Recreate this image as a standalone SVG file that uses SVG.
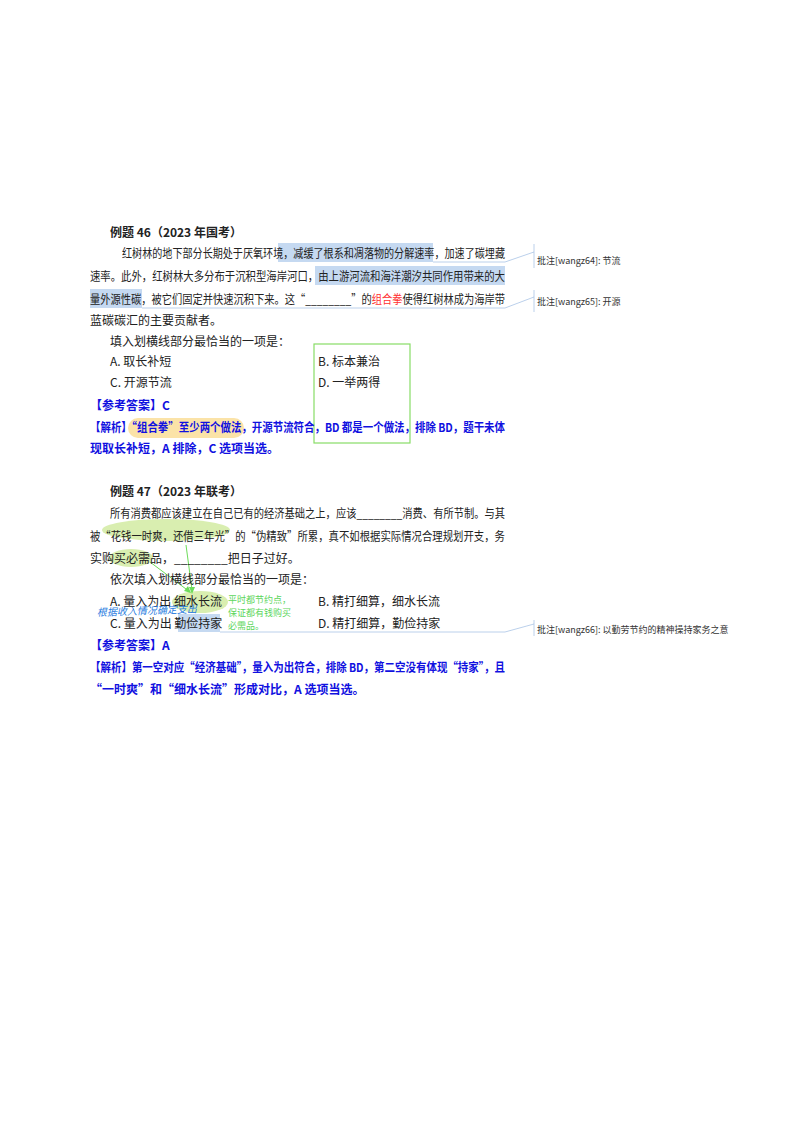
<svg xmlns="http://www.w3.org/2000/svg" width="800" height="1132" viewBox="0 0 800 1132">
<style>
text{font-family:"Noto Sans CJK SC","Liberation Serif",serif;font-size:12px;fill:#222}
.b{font-weight:bold}
.bl{fill:#1010e0;font-weight:bold}
.red{fill:#ff3030}
.cm{font-size:9px;fill:#333}
.gn{font-size:9px;fill:#5cd65c}
.ln{stroke:#a9c4e6;stroke-width:0.8;fill:none}
.hl{fill:#c5d9f1}
.gh{fill:#d9eeb0}
</style>
<rect width="800" height="1132" fill="#fff"/>
<g id="highlights">
<rect class="hl" x="278" y="243" width="155" height="19"/>
<rect class="hl" x="315" y="266" width="190" height="19"/>
<rect class="hl" x="90" y="289" width="52" height="19"/>
<rect x="128" y="418" width="116" height="20" rx="10" fill="#fbe3a8"/>
<ellipse class="gh" cx="166" cy="530" rx="64" ry="11"/>
<ellipse class="gh" cx="131" cy="558" rx="22" ry="9"/>
<ellipse class="gh" cx="200" cy="602" rx="28" ry="11"/>
<rect class="hl" x="178" y="614" width="42" height="18"/>
</g>
<g id="connectors">
<path class="ln" d="M433 262 H505 L534 252 M534 244 V268"/>
<path class="ln" d="M142 308 H505 L534 297 M534 290 V312"/>
<path class="ln" d="M220 632 H505 L534 624 M534 620 V636"/>
<rect x="314" y="344" width="96" height="99" fill="none" stroke="#88dd66" stroke-width="1.2"/>
<path d="M186 545 L192 590 M150 562 L190 592" stroke="#6ddc5a" stroke-width="1" fill="none"/>
<path d="M192 594 l-3 -7 l6 0z M191 593 l-7 -2 l4 -5z" fill="#6ddc5a"/>
</g>
<g id="ex46">
<text class="b" x="110" y="237">例题 46（2023 年国考）</text>
<text x="122" y="258" textLength="383" lengthAdjust="spacingAndGlyphs">红树林的地下部分长期处于厌氧环境，减缓了根系和凋落物的分解速率，加速了碳埋藏</text>
<text x="90" y="281" textLength="415" lengthAdjust="spacingAndGlyphs">速率。此外，红树林大多分布于沉积型海岸河口，由上游河流和海洋潮汐共同作用带来的大</text>
<text x="90" y="304" textLength="415" lengthAdjust="spacingAndGlyphs">量外源性碳，被它们固定并快速沉积下来。这“________”的<tspan class="red">组合拳</tspan>使得红树林成为海岸带</text>
<text x="90" y="325">蓝碳碳汇的主要贡献者。</text>
<text x="110" y="346">填入划横线部分最恰当的一项是：</text>
<text x="110" y="366">A. 取长补短</text><text x="318" y="366">B. 标本兼治</text>
<text x="110" y="387">C. 开源节流</text><text x="318" y="387">D. 一举两得</text>
<text class="bl" x="90" y="410">【参考答案】C</text>
<text class="bl" x="90" y="432" textLength="415" lengthAdjust="spacingAndGlyphs">【解析】“组合拳”至少两个做法，开源节流符合，BD 都是一个做法，排除 BD，题干未体</text>
<text class="bl" x="90" y="453">现取长补短，A 排除，C 选项当选。</text>
</g>
<g id="ex47">
<text class="b" x="110" y="496">例题 47（2023 年联考）</text>
<text x="110" y="518" textLength="395" lengthAdjust="spacingAndGlyphs">所有消费都应该建立在自己已有的经济基础之上，应该________消费、有所节制。与其</text>
<text x="90" y="541" textLength="415" lengthAdjust="spacingAndGlyphs">被“花钱一时爽，还借三年光”的“伪精致”所累，真不如根据实际情况合理规划开支，务</text>
<text x="90" y="563">实购买必需品，________把日子过好。</text>
<text x="110" y="584">依次填入划横线部分最恰当的一项是：</text>
<text x="110" y="606">A. 量入为出  细水长流</text><text x="318" y="606">B. 精打细算，细水长流</text>
<text x="110" y="628">C. 量入为出  勤俭持家</text><text x="318" y="628">D. 精打细算，勤俭持家</text>
<text class="gn" x="228" y="603">平时都节约点，</text>
<text class="gn" x="228" y="616">保证都有钱购买</text>
<text class="gn" x="228" y="629">必需品。</text>
<text x="97" y="616" font-size="10" fill="#2b7de0" font-style="italic" transform="rotate(-2 97 616)" style="fill:#2b7de0;font-size:10px">根据收入情况确定支出</text>
<text class="bl" x="90" y="650">【参考答案】A</text>
<text class="bl" x="90" y="672" textLength="415" lengthAdjust="spacingAndGlyphs">【解析】第一空对应“经济基础”，量入为出符合，排除 BD，第二空没有体现“持家”，且</text>
<text class="bl" x="90" y="694">“一时爽”和“细水长流”形成对比，A 选项当选。</text>
</g>
<g id="comments">
<text class="cm" x="537" y="264">批注[wangz64]:  节流</text>
<text class="cm" x="537" y="305">批注[wangz65]:  开源</text>
<text class="cm" x="537" y="633">批注[wangz66]:  以勤劳节约的精神操持家务之意</text>
</g>
</svg>
